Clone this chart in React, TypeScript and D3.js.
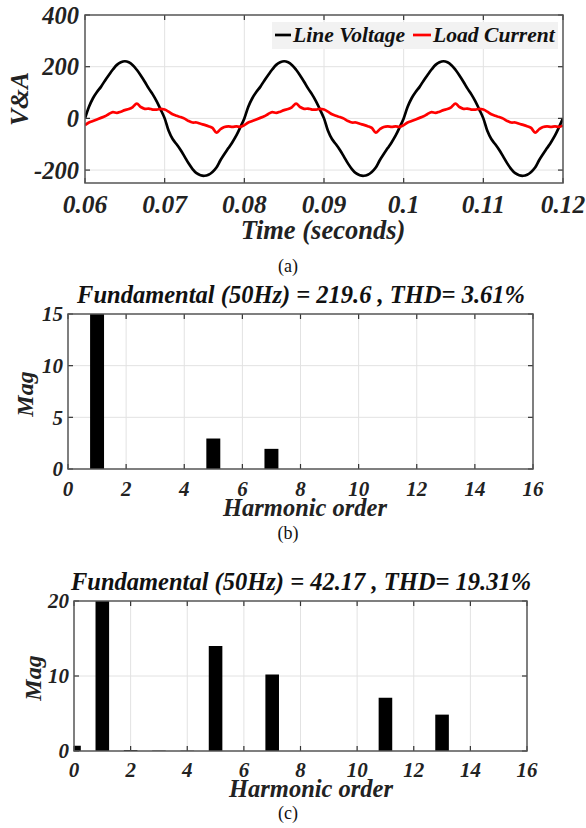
import React from 'react';
import * as d3 from 'd3';

// ---------- Panel (a): time series ----------
const T_START = 0.06;
const T_STEP = 0.0005;

const lineVoltage = [
  0, 45, 78, 102, 122, 146, 168, 189, 207, 217, 221, 217, 206, 188, 166, 142, 116, 93, 66, 34,
  0, -48, -80, -100, -122, -148, -174, -196, -212, -220, -222, -218, -207, -190, -162, -138, -115, -92, -66, -34,
  0, 45, 78, 102, 122, 146, 168, 189, 207, 217, 221, 217, 206, 188, 166, 142, 116, 93, 66, 34,
  0, -48, -80, -100, -122, -148, -174, -196, -212, -220, -222, -218, -207, -190, -162, -138, -115, -92, -66, -34,
  0, 45, 78, 102, 122, 146, 168, 189, 207, 217, 221, 217, 206, 188, 166, 142, 116, 93, 66, 34,
  0, -48, -80, -100, -122, -148, -174, -196, -212, -220, -222, -218, -207, -190, -162, -138, -115, -92, -66, -34,
  0,
];

const loadCurrent = [
  -26, -16, -10, -4, 2, 8, 17, 24, 21, 26, 32, 36, 44, 57, 44, 37, 38, 34, 34, 37,
  34, 26, 16, 10, 5, -1, -10, -16, -16, -21, -25, -30, -37, -55, -42, -33, -31, -33, -31, -33,
  -26, -16, -10, -4, 2, 8, 17, 24, 21, 26, 32, 36, 44, 57, 44, 37, 38, 34, 34, 37,
  34, 26, 16, 10, 5, -1, -10, -16, -16, -21, -25, -30, -37, -55, -42, -33, -31, -33, -31, -33,
  -26, -16, -10, -4, 2, 8, 17, 24, 21, 26, 32, 36, 44, 57, 44, 37, 38, 34, 34, 37,
  34, 26, 16, 10, 5, -1, -10, -16, -16, -21, -25, -30, -37, -55, -42, -33, -31, -33, -31, -33,
  -28,
];

const timeTicks = [0.06, 0.07, 0.08, 0.09, 0.1, 0.11, 0.12];
const timeTickLabels = ['0.06', '0.07', '0.08', '0.09', '0.1', '0.11', '0.12'];
const vaTicks = [-200, 0, 200, 400];
const seriesNames = ['Line Voltage', 'Load Current'];
const seriesColors = ['#000000', '#ff0000'];

// ---------- Panels (b), (c): harmonic spectra ----------
const harmonicTicks = [0, 2, 4, 6, 8, 10, 12, 14, 16];
const ordersB = [1, 5, 7];
const magsB = [100, 2.95, 1.95];
const magTicksB = [0, 5, 10, 15];
const titleB = 'Fundamental (50Hz) = 219.6 , THD= 3.61%';

const ordersC = [0, 1, 2, 3, 4, 5, 7, 11, 13];
const magsC = [0.7, 100, 0.12, 0.05, 0.04, 14.0, 10.2, 7.1, 4.85];
const magTicksC = [0, 10, 20];
const titleC = 'Fundamental (50Hz) = 42.17 , THD= 19.31%';

const FONT = '"Liberation Serif", "Times New Roman", serif';
const GRID = '#e2e2e2';
const AXIS = '#555555';
const TICK = '#333333';

const boldItalic = { fontFamily: FONT, fontWeight: 'bold' as const, fontStyle: 'italic' as const, fill: '#222' };

function TimePanel() {
  const L = 85, R = 563, T = 15, B = 183;
  const x = d3.scaleLinear().domain([0.06, 0.12]).range([L, R]);
  const y = d3.scaleLinear().domain([-250, 400]).range([B, T]);
  const line = d3
    .line<number>()
    .x((_, i) => x(T_START + i * T_STEP))
    .y((d) => y(d))
    .curve(d3.curveCatmullRom.alpha(0.5));
  return (
    <g>
      <defs>
        <clipPath id="clipA">
          <rect x={L} y={T} width={R - L} height={B - T} />
        </clipPath>
      </defs>
      <rect x={L} y={T} width={R - L} height={B - T} fill="#fff" />
      {timeTicks.slice(1, -1).map((t) => (
        <line key={'gx' + t} x1={x(t)} x2={x(t)} y1={T} y2={B} stroke={GRID} strokeWidth={1} />
      ))}
      {vaTicks.filter((v) => y(v) > T + 1 && y(v) < B - 1).map((v) => (
        <line key={'gy' + v} x1={L} x2={R} y1={y(v)} y2={y(v)} stroke={GRID} strokeWidth={1} />
      ))}
      <g clipPath="url(#clipA)">
        <path d={line(lineVoltage) || ''} fill="none" stroke={seriesColors[0]} strokeWidth={2.7} />
        <path d={line(loadCurrent) || ''} fill="none" stroke={seriesColors[1]} strokeWidth={2.7} />
      </g>
      {/* legend */}
      <rect x={272} y={22} width={286} height={27} fill="#f2f2f2" />
      <line x1={275} x2={291} y1={35} y2={35} stroke={seriesColors[0]} strokeWidth={2.7} />
      <text x={293} y={42} fontSize={21.6} {...boldItalic} fill="#111">{seriesNames[0]}</text>
      <line x1={413} x2={431} y1={35} y2={35} stroke={seriesColors[1]} strokeWidth={2.7} />
      <text x={433} y={42} fontSize={21.6} {...boldItalic} fill="#111">{seriesNames[1]}</text>
      {/* ticks */}
      {timeTicks.map((t) => (
        <g key={'tx' + t}>
          <line x1={x(t)} x2={x(t)} y1={B} y2={B - 5} stroke={TICK} strokeWidth={1.2} />
          <line x1={x(t)} x2={x(t)} y1={T} y2={T + 5} stroke={TICK} strokeWidth={1.2} />
        </g>
      ))}
      {vaTicks.map((v) => (
        <g key={'ty' + v}>
          <line x1={L} x2={L + 5} y1={y(v)} y2={y(v)} stroke={TICK} strokeWidth={1.2} />
          <line x1={R} x2={R - 5} y1={y(v)} y2={y(v)} stroke={TICK} strokeWidth={1.2} />
        </g>
      ))}
      <rect x={L} y={T} width={R - L} height={B - T} fill="none" stroke={AXIS} strokeWidth={1.5} />
      {timeTicks.map((t, i) => (
        <text key={'lx' + t} x={x(t)} y={213} fontSize={25.5} textAnchor="middle" {...boldItalic}>
          {timeTickLabels[i]}
        </text>
      ))}
      {vaTicks.map((v) => (
        <text key={'ly' + v} x={79} y={y(v)} dy="0.35em" fontSize={24.5} textAnchor="end" {...boldItalic}>
          {v}
        </text>
      ))}
      <text x={323} y={239} fontSize={26.5} textAnchor="middle" {...boldItalic}>Time (seconds)</text>
      <text transform="translate(28,99) rotate(-90)" fontSize={25.5} textAnchor="middle" {...boldItalic}>V&amp;A</text>
      <text x={288} y={272} fontSize={18} textAnchor="middle" fontFamily={FONT} fill="#111">(a)</text>
    </g>
  );
}

type BarProps = {
  id: string;
  L: number; R: number; T: number; B: number;
  yMax: number;
  orders: number[];
  mags: number[];
  yTicks: number[];
  title: string;
  titleY: number;
  xLabelY: number;
  xTitleX: number;
  xTitleY: number;
  magX: number;
  magY: number;
  caption: string;
  captionY: number;
};

function BarPanel(p: BarProps) {
  const { L, R, T, B } = p;
  const x = d3.scaleLinear().domain([0, 16]).range([L, R]);
  const y = d3.scaleLinear().domain([0, p.yMax]).range([B, T]);
  const bw = x(0.48) - x(0);
  return (
    <g>
      <defs>
        <clipPath id={p.id}>
          <rect x={L} y={T} width={R - L} height={B - T} />
        </clipPath>
      </defs>
      <rect x={L} y={T} width={R - L} height={B - T} fill="#fff" />
      {harmonicTicks.slice(1, -1).map((h) => (
        <line key={'gx' + h} x1={x(h)} x2={x(h)} y1={T} y2={B} stroke={GRID} strokeWidth={1} />
      ))}
      {p.yTicks.slice(1, -1).map((v) => (
        <line key={'gy' + v} x1={L} x2={R} y1={y(v)} y2={y(v)} stroke={GRID} strokeWidth={1} />
      ))}
      <g clipPath={`url(#${p.id})`}>
        {p.orders.map((o, i) => (
          <rect
            key={'b' + o}
            x={x(o) - bw / 2}
            width={bw}
            y={y(p.mags[i])}
            height={Math.max(0, B - y(p.mags[i]))}
            fill="#000"
          />
        ))}
      </g>
      {harmonicTicks.map((h) => (
        <g key={'tx' + h}>
          <line x1={x(h)} x2={x(h)} y1={B} y2={B - 5} stroke={TICK} strokeWidth={1.2} />
          <line x1={x(h)} x2={x(h)} y1={T} y2={T + 5} stroke={TICK} strokeWidth={1.2} />
        </g>
      ))}
      {p.yTicks.map((v) => (
        <g key={'ty' + v}>
          <line x1={L} x2={L + 5} y1={y(v)} y2={y(v)} stroke={TICK} strokeWidth={1.2} />
          <line x1={R} x2={R - 5} y1={y(v)} y2={y(v)} stroke={TICK} strokeWidth={1.2} />
        </g>
      ))}
      <rect x={L} y={T} width={R - L} height={B - T} fill="none" stroke={AXIS} strokeWidth={1.5} />
      {harmonicTicks.map((h) => (
        <text key={'lx' + h} x={x(h)} y={p.xLabelY} fontSize={21} textAnchor="middle" {...boldItalic}>
          {h}
        </text>
      ))}
      {p.yTicks.map((v) => (
        <text key={'ly' + v} x={L - 5} y={y(v)} dy="0.35em" fontSize={21} textAnchor="end" {...boldItalic}>
          {v}
        </text>
      ))}
      <text x={301} y={p.titleY} fontSize={24.5} textAnchor="middle" {...boldItalic} fill="#111">{p.title}</text>
      <text x={p.xTitleX} y={p.xTitleY} fontSize={24.5} textAnchor="middle" {...boldItalic}>Harmonic order</text>
      <text transform={`translate(${p.magX},${p.magY}) rotate(-90)`} fontSize={24} textAnchor="middle" {...boldItalic}>Mag</text>
      <text x={288} y={p.captionY} fontSize={18} textAnchor="middle" fontFamily={FONT} fill="#111">{p.caption}</text>
    </g>
  );
}

export default function App() {
  return (
    <svg
      width={586}
      height={828}
      viewBox="0 0 586 828"
      style={{ position: 'absolute', left: 0, top: 0, background: '#fff' }}
    >
      <rect x={0} y={0} width={586} height={828} fill="#fff" />
      <TimePanel />
      <BarPanel
        id="clipB"
        L={68} R={533} T={314} B={469}
        yMax={15}
        orders={ordersB}
        mags={magsB}
        yTicks={magTicksB}
        title={titleB}
        titleY={303}
        xLabelY={496}
        xTitleX={305}
        xTitleY={516}
        magX={33}
        magY={394}
        caption="(b)"
        captionY={539}
      />
      <BarPanel
        id="clipC"
        L={74} R={527} T={601} B={751}
        yMax={20}
        orders={ordersC}
        mags={magsC}
        yTicks={magTicksC}
        title={titleC}
        titleY={590}
        xLabelY={777}
        xTitleX={311}
        xTitleY={797}
        magX={41}
        magY={678}
        caption="(c)"
        captionY={819}
      />
    </svg>
  );
}
